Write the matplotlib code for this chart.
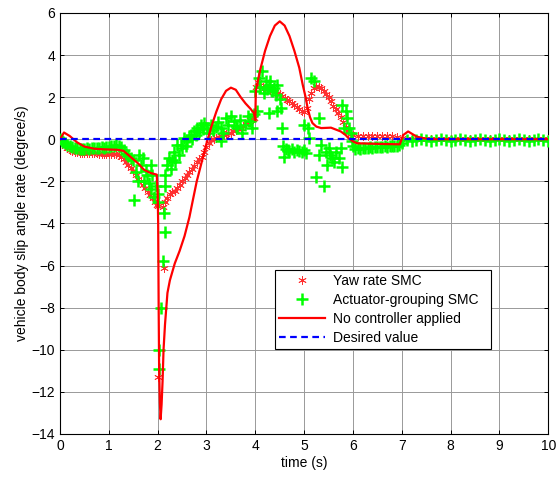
import matplotlib
matplotlib.use("Agg")
import matplotlib.pyplot as plt

plt.rcParams['font.family'] = ['Liberation Sans', 'DejaVu Sans']

# ---------------- data ----------------
# No controller applied (solid red line)
line_t = [0.0, 0.08, 0.2, 0.35, 0.5, 0.7, 0.9, 1.17, 1.3, 1.45, 1.6, 1.72, 1.85, 1.98,
          2.0, 2.01, 2.02, 2.03, 2.045, 2.06, 2.08, 2.1, 2.12, 2.15, 2.2, 2.25, 2.35, 2.45,
          2.55, 2.65, 2.72, 2.8, 2.9, 3.0, 3.1, 3.2, 3.3, 3.4, 3.5, 3.6, 3.7, 3.8, 3.9,
          3.97, 4.0, 4.01, 4.1, 4.2, 4.3, 4.4, 4.5, 4.6, 4.7, 4.8, 4.9, 4.97, 5.03, 5.07,
          5.12, 5.17, 5.25, 5.35, 5.55, 5.75, 5.85, 5.91, 6.0, 6.08, 6.5, 6.96, 7.03,
          7.13, 7.3, 7.44, 7.6, 10.0]
line_v = [0.0, 0.32, 0.15, -0.15, -0.35, -0.45, -0.48, -0.5, -0.55, -0.85, -1.15, -1.45, -1.6, -1.68,
          -2.5, -4.0, -8.0, -11.0, -12.5, -13.3, -12.6, -11.5, -10.0, -8.8, -7.3, -6.7, -5.9, -5.3,
          -4.6, -3.7, -2.9, -2.0, -1.1, -0.2, 0.6, 1.3, 1.9, 2.3, 2.45, 2.35, 2.0, 1.7, 1.45,
          1.25, 0.9, 2.3, 3.3, 4.2, 4.9, 5.4, 5.6, 5.4, 4.9, 4.2, 3.4, 2.6, 2.0, 1.5,
          1.05, 0.77, 0.6, 0.53, 0.55, 0.37, 0.2, 0.05, -0.1, -0.19, -0.22, -0.24, 0.2,
          0.37, 0.13, 0.05, 0.0, 0.0]

# Yaw rate SMC (red stars)
smc_t = [0.0, 0.05, 0.1, 0.15, 0.2, 0.25, 0.3, 0.35, 0.4, 0.45, 0.5, 0.55, 0.6, 0.65,
         0.7, 0.75, 0.8, 0.85, 0.9, 0.95, 1.0, 1.05, 1.1, 1.15, 1.2, 1.25, 1.3, 1.35,
         1.4, 1.45, 1.5, 1.55, 1.6, 1.65, 1.7, 1.75, 1.8, 1.85, 1.9, 1.95, 1.99, 2.01,
         2.0, 2.12, 2.1, 2.15, 2.2, 2.25, 2.3, 2.35, 2.4, 2.45, 2.5, 2.55, 2.6, 2.65,
         2.7, 2.75, 2.8, 2.85, 2.9, 2.95, 3.0, 3.05, 3.1, 3.15, 3.2, 3.25, 3.3, 3.35,
         3.4, 3.45, 3.5, 3.55, 3.6, 3.65, 3.7, 3.75, 3.8, 3.85, 3.9, 3.95, 3.98, 4.02,
         4.05, 4.1, 4.15, 4.2, 4.25, 4.3, 4.35, 4.4, 4.45, 4.5, 4.55, 4.6, 4.65, 4.7,
         4.75, 4.8, 4.85, 4.9, 4.95, 5.0, 5.05, 5.1, 5.15, 5.2, 5.25, 5.3, 5.35, 5.4,
         5.45, 5.5, 5.55, 5.6, 5.65, 5.7, 5.75, 5.8, 5.85, 5.9, 5.95, 6.0, 6.1, 6.2,
         6.3, 6.4, 6.5, 6.6, 6.7, 6.8, 6.9, 7.0, 7.1, 7.2, 7.3, 7.4, 7.5, 7.6, 7.7,
         7.8, 7.9, 8.0, 8.1, 8.2, 8.3, 8.4, 8.5, 8.6, 8.7, 8.8, 8.9, 9.0, 9.1, 9.2,
         9.3, 9.4, 9.5, 9.6, 9.7, 9.8, 9.9, 10.0]
smc_v = [0.0, -0.15, -0.3, -0.4, -0.5, -0.55, -0.6, -0.62, -0.65, -0.65, -0.65, -0.65, -0.65, -0.65,
         -0.65, -0.65, -0.68, -0.68, -0.68, -0.68, -0.68, -0.7, -0.7, -0.72, -0.75, -0.85, -0.95, -1.1,
         -1.23, -1.35, -1.5, -1.7, -1.87, -2.0, -2.15, -2.3, -2.5, -2.65, -2.8, -3.0, -3.1, -11.3,
         -3.15, -6.1, -3.2, -3.0, -2.8, -2.6, -2.5, -2.45, -2.3, -2.15, -2.0, -1.85, -1.7, -1.55,
         -1.4, -1.25, -1.1, -0.95, -0.83, -0.6, -0.35, -0.2, -0.05, 0.0, 0.05, 0.1, 0.15, 0.2,
         0.25, 0.3, 0.32, 0.4, 0.45, 0.5, 0.55, 0.65, 0.72, 0.8, 0.9, 0.95, 1.0, 2.5,
         2.7, 2.6, 2.5, 2.45, 2.4, 2.35, 2.3, 2.25, 2.2, 2.15, 2.05, 1.95, 1.85, 1.8,
         1.72, 1.65, 1.55, 1.45, 1.35, 1.3, 1.5, 1.9, 2.2, 2.45, 2.55, 2.5, 2.45, 2.3,
         2.15, 2.0, 1.8, 1.6, 1.45, 1.25, 1.05, 0.8, 0.6, 0.4, 0.25, 0.18, 0.15, 0.15,
         0.15, 0.15, 0.15, 0.15, 0.15, 0.15, 0.12, 0.08, 0.03, 0.0, 0.0, 0.0, 0.0, 0.0, 0.0,
         0.0, 0.0, 0.0, 0.0, 0.0, 0.0, 0.0, 0.0, 0.0, 0.0, 0.0, 0.0, 0.0, 0.0, 0.0,
         0.0, 0.0, 0.0, 0.0, 0.0, 0.0, 0.0, 0.0]

# Actuator-grouping SMC (green plus)
ag_t = [0.0, 0.03, 0.06, 0.1, 0.15, 0.2, 0.25, 0.3, 0.35, 0.4, 0.45, 0.5, 0.55, 0.6,
        0.65, 0.7, 0.75, 0.8, 0.85, 0.9, 0.95, 1.0, 1.05, 1.1, 1.15, 1.2, 1.25, 1.3,
        1.35, 1.4, 1.45, 1.5, 1.52, 1.55, 1.6, 1.62, 1.66, 1.69, 1.72, 1.76, 1.79, 1.83,
        1.86, 1.86, 1.89, 1.93, 1.96, 2.0, 2.01, 2.02, 2.03, 2.07, 2.11, 2.13, 2.15,
        2.16, 2.16, 2.2, 2.23, 2.27, 2.3, 2.33, 2.36, 2.39, 2.44, 2.47, 2.5, 2.54, 2.58,
        2.61, 2.65, 2.68, 2.71, 2.74, 2.78, 2.81, 2.85, 2.88, 2.92, 2.95, 3.02, 3.06,
        3.09, 3.14, 3.19, 3.24, 3.29, 3.29, 3.34, 3.39, 3.44, 3.5, 3.56, 3.6, 3.63,
        3.68, 3.73, 3.78, 3.84, 3.9, 3.94, 3.97, 4.0, 4.04, 4.07, 4.1, 4.14, 4.17, 4.21,
        4.24, 4.28, 4.28, 4.31, 4.35, 4.38, 4.42, 4.45, 4.45, 4.5, 4.52, 4.55, 4.57,
        4.59, 4.62, 4.66, 4.7, 4.75, 4.8, 4.85, 4.9, 4.95, 5.0, 5.03, 5.0, 5.07, 5.1,
        5.14, 5.2, 5.24, 5.3, 5.3, 5.34, 5.41, 5.44, 5.47, 5.5, 5.54, 5.58, 5.61, 5.65,
        5.71, 5.75, 5.78, 5.78, 5.81, 5.85, 5.88, 5.91, 5.95, 5.98, 6.0, 6.05, 6.1,
        6.15, 6.2, 6.25, 6.3, 6.35, 6.4, 6.45, 6.5, 6.55, 6.6, 6.65, 6.7, 6.75, 6.8,
        6.85, 6.9, 6.95, 7.0, 7.1, 7.2, 7.3, 7.4, 7.5, 7.6, 7.7, 7.8, 7.9, 8.0, 8.1,
        8.2, 8.3, 8.4, 8.5, 8.6, 8.7, 8.8, 8.9, 9.0, 9.1, 9.2, 9.3, 9.4, 9.5, 9.6, 9.7,
        9.8, 9.9, 10.0]
ag_v = [0.0, -0.1, -0.15, -0.2, -0.28, -0.32, -0.38, -0.4, -0.42, -0.45, -0.45, -0.45, -0.42, -0.45,
        -0.4, -0.42, -0.4, -0.4, -0.38, -0.4, -0.35, -0.35, -0.3, -0.3, -0.28, -0.3, -0.35, -0.5,
        -0.7, -0.8, -0.9, -1.0, -2.9, -1.55, -2.0, -0.75, -1.2, -0.9, -2.0, -1.5, -1.7, -2.1,
        -1.2, -2.35, -1.7, -2.75, -2.2, -2.6, -3.0, -10.0, -10.9, -8.0, -5.8, -3.5, -4.4,
        -1.7, -2.2, -1.23, -0.9, -1.4, -1.0, -0.6, -1.1, -0.27, -0.75, -0.27, -0.4, 0.05, -0.3,
        -0.1, 0.1, 0.2, 0.0, 0.37, 0.2, 0.53, 0.35, 0.69, 0.5, 0.77, 0.53, 0.3,
        0.69, 0.45, 0.6, 0.8, 0.53, -0.1, 0.3, 1.0, 0.7, 1.09, 0.85, 0.65, 0.53,
        0.9, 0.29, 0.7, 1.09, 0.85, 0.53, 1.2, 2.29, 1.33, 2.93, 2.5, 3.25, 2.2, 2.77,
        2.4, 2.6, 1.25, 2.77, 2.3, 2.45, 2.1, 2.6, 1.33, 1.9, 1.49, 0.53, -0.3,
        -0.83, -0.45, -0.5, -0.55, -0.45, -0.6, -0.5, -0.55, -0.6, -0.5, -0.65, 0.69, 0.53, 0.05,
        2.93, 2.77, -1.8, 1.0, -0.75, -0.27, -2.2, -0.6, -1.23, -0.4, -0.75, -0.9, -1.07, -0.6,
        -0.9, -0.43, -1.3, 1.65, 0.53, 1.33, 1.0, 0.53, 0.29, -0.1, -0.3, -0.45, -0.4,
        -0.45, -0.4, -0.42, -0.4, -0.38, -0.4, -0.35, -0.38, -0.35, -0.35, -0.32, -0.35, -0.3, -0.32,
        -0.3, -0.3, -0.28, -0.2, -0.05, -0.1, -0.05, 0.0, -0.05, -0.1, -0.05, 0.0, -0.05, -0.1, -0.05,
        0.0, -0.05, -0.1, -0.05, 0.0, -0.05, -0.1, -0.05, 0.0, -0.05, -0.1, -0.05, 0.0, -0.05, -0.1, -0.05,
        0.0, -0.05, -0.1]

# Desired value
des_t = [0.0, 10.0]
des_v = [0.0, 0.0]

labels = ['Yaw rate SMC', 'Actuator-grouping SMC', 'No controller applied', 'Desired value']
xticks = list(range(0, 11))
yticks = list(range(-14, 7, 2))

# ---------------- plot ----------------
fig = plt.figure(figsize=(5.56, 4.79), dpi=100)
ax = fig.add_axes([0.108, 0.094, 0.878, 0.879])

ax.plot(smc_t, smc_v, linestyle='none', marker=(6, 2, 0), markersize=6,
        markeredgewidth=0.6, color='#ff3030', label=labels[0], zorder=3)
ax.plot(ag_t, ag_v, linestyle='none', marker='+', markersize=8,
        markeredgewidth=1.8, color='#00ff00', label=labels[1], zorder=4)
ax.plot(line_t, line_v, color='red', linewidth=1.6, label=labels[2], zorder=5)
ax.plot(des_t, des_v, color='blue', linewidth=1.6, linestyle=(0, (3, 2)),
        label=labels[3], zorder=6)

ax.set_xlim(0, 10)
ax.set_ylim(-14, 6)
ax.set_xticks(xticks)
ax.set_yticks(yticks)
ax.grid(True, color='0.6', linewidth=0.7)
ax.set_axisbelow(True)
ax.tick_params(direction='in', top=True, right=True, length=3, labelsize=10, width=0.7)
for s in ax.spines.values():
    s.set_linewidth(0.8)
    s.set_color('black')

ax.set_xlabel('time (s)', fontsize=10, labelpad=2)
ax.set_ylabel('vehicle body slip angle rate (degree/s)', fontsize=10, labelpad=2)

leg = ax.legend(loc='lower left', bbox_to_anchor=(0.44, 0.202, 0.443, 0.226), mode='expand',
                fontsize=10, fancybox=False, edgecolor='black', framealpha=1,
                borderpad=0.3, labelspacing=0.35, handlelength=3.3, handletextpad=0.6,
                borderaxespad=0)
leg.get_frame().set_linewidth(0.8)

fig.savefig('out.png', dpi=100)
